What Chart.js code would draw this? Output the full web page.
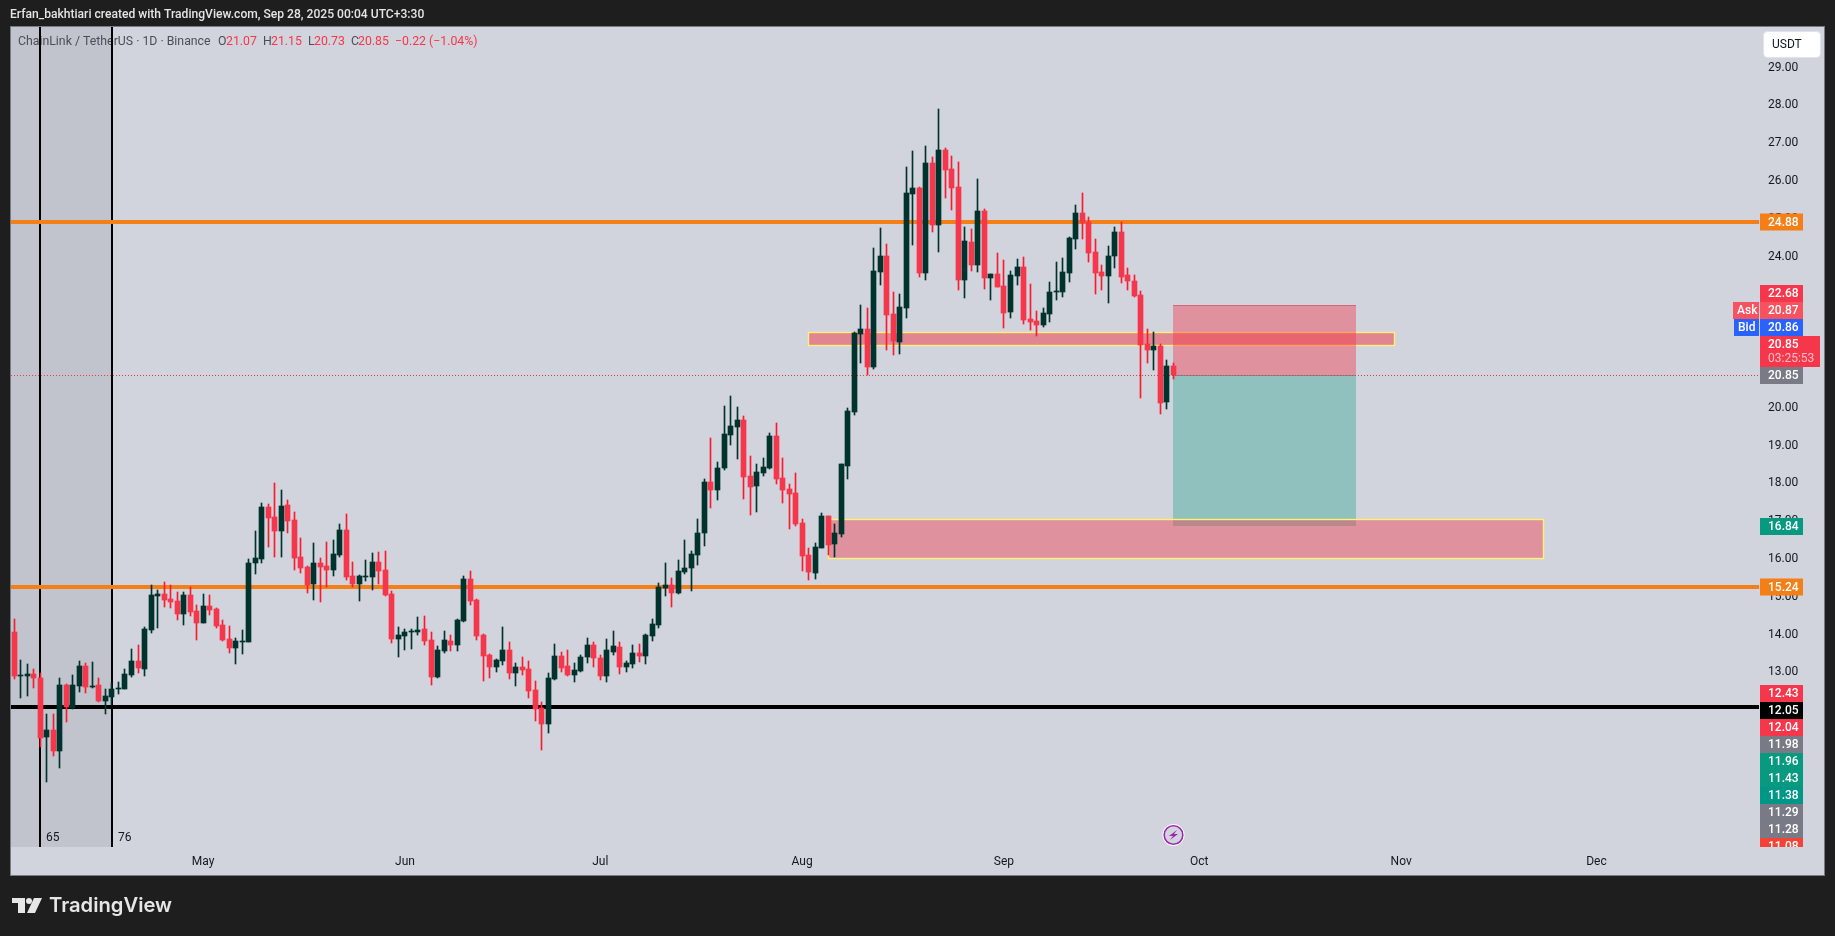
<!DOCTYPE html>
<html><head><meta charset="utf-8"><title>LINKUSDT</title>
<style>html,body{margin:0;padding:0;background:#1e1e1e;overflow:hidden}#wrap{position:absolute;left:0;top:0;width:1835px;height:936px}canvas{display:block}</style>
<script src="https://cdn.jsdelivr.net/npm/chart.js@4/dist/chart.umd.min.js"></script>
</head><body><div id="wrap"><canvas id="c" width="1835" height="936"></canvas></div>
<script>
// daily candles, index 0 = 2 Apr 2025, index 178 = 27 Sep 2025
const opens=[14.04,12.88,12.88,12.93,12.82,11.26,11.45,10.89,12.64,12.03,
12.61,13.14,12.58,12.64,12.21,12.32,12.53,12.53,12.90,13.27,
13.06,14.09,14.99,15.05,14.91,14.86,14.52,15.02,14.60,14.28,
14.73,14.65,14.23,13.86,13.62,13.78,13.78,15.87,15.97,17.35,
17.08,16.71,17.40,17.00,16.02,15.76,15.31,15.87,15.79,15.68,
16.08,16.74,15.52,15.31,15.49,15.49,15.89,15.68,15.05,13.85,
13.93,14.04,14.04,14.12,13.83,12.85,13.54,13.80,13.70,14.33,
15.44,14.89,13.96,13.43,13.11,13.27,13.56,12.95,13.11,13.06,
12.51,12.03,11.61,12.80,13.40,13.14,12.90,13.01,13.38,13.70,
13.35,12.88,13.51,13.64,13.11,13.19,13.48,13.40,13.93,14.23,
15.20,15.28,15.07,15.63,15.73,16.08,16.66,18.01,17.80,18.38,
19.25,19.46,19.65,18.17,17.90,18.25,18.38,19.23,18.11,17.82,
17.72,16.92,16.08,15.60,16.26,17.11,16.37,16.63,18.43,19.86,
21.92,22.06,21.05,23.56,23.99,22.45,21.71,22.61,25.63,25.79,
23.54,26.45,24.81,26.79,26.29,25.81,23.35,24.36,23.75,25.18,
23.40,23.51,23.19,22.51,23.46,23.70,22.32,22.27,22.16,22.45,
23.03,23.03,23.54,24.44,25.12,24.89,24.09,23.56,23.46,23.99,
24.62,23.48,23.33,22.96,21.66,21.50,21.61,20.12,21.07];
const closes=[12.88,12.90,12.93,12.82,11.24,11.45,10.89,12.64,12.06,12.64,
13.14,12.58,12.61,12.21,12.35,12.53,12.56,12.93,13.27,13.09,
14.12,15.02,15.05,14.89,14.83,14.52,15.02,14.57,14.28,14.73,
14.62,14.20,13.83,13.62,13.80,13.80,15.87,16.00,17.35,17.06,
16.71,17.37,16.98,16.00,15.73,15.28,15.87,15.76,15.68,16.10,
16.74,15.49,15.31,15.52,15.52,15.89,15.65,15.02,13.85,13.96,
14.04,14.07,14.09,13.80,12.85,13.56,13.83,13.70,14.36,15.44,
14.86,13.93,13.40,13.11,13.30,13.56,12.95,13.11,13.03,12.48,
12.00,11.61,12.82,13.40,13.09,12.90,13.03,13.38,13.70,13.35,
12.88,13.56,13.67,13.11,13.22,13.48,13.40,13.96,14.25,15.23,
15.28,15.07,15.65,15.73,16.10,16.66,18.01,17.80,18.38,19.28,
19.49,19.65,18.14,17.88,18.27,18.41,19.23,18.09,17.80,17.69,
16.90,16.05,15.63,16.29,17.11,16.34,16.66,18.48,19.89,21.95,
22.06,21.05,23.59,23.99,22.43,21.74,22.64,25.65,25.79,23.54,
26.45,24.81,26.79,26.26,25.79,23.35,24.38,23.75,25.18,23.40,
23.51,23.17,22.48,23.48,23.70,22.29,22.24,22.16,22.48,23.03,
23.06,23.56,24.46,25.12,24.86,24.07,23.54,23.46,23.99,24.62,
23.43,23.33,22.93,21.63,21.50,21.61,20.10,21.07,20.85];
const highs=[14.38,13.30,13.19,13.06,12.96,11.87,11.87,12.82,12.66,12.90,
13.27,13.22,13.25,12.82,12.53,12.69,12.72,13.06,13.59,13.70,
14.17,15.28,15.15,15.36,15.28,15.10,15.10,15.23,14.75,15.05,
15.02,14.68,14.36,14.20,13.88,14.09,15.97,16.71,17.45,17.43,
17.98,17.80,17.53,17.21,16.53,15.79,16.39,16.00,16.42,16.47,
16.90,17.16,15.89,15.55,15.94,16.13,16.16,16.18,15.12,14.17,
14.12,14.12,14.44,14.46,14.04,13.67,14.07,13.96,14.38,15.52,
15.65,14.91,13.99,13.46,13.33,14.17,13.78,13.22,13.38,13.27,
12.74,12.19,12.95,13.72,13.51,13.56,13.22,13.43,13.88,13.78,
13.43,13.85,14.07,13.78,13.27,13.70,13.72,13.99,14.38,15.34,
15.87,15.47,15.95,16.47,16.18,17.03,18.09,19.17,18.54,20.02,
20.28,19.99,19.75,18.70,18.48,18.64,19.30,19.57,18.64,17.96,
18.25,17.03,16.26,16.39,17.19,17.11,16.90,18.48,19.97,21.98,
22.69,22.61,24.20,24.73,24.30,23.03,22.98,26.34,26.76,25.81,
26.90,26.61,27.88,26.84,26.63,26.47,24.75,24.70,26.02,25.23,
23.51,24.07,23.88,23.59,23.91,23.96,23.25,22.53,22.61,23.30,
23.83,23.93,24.49,25.34,25.65,25.02,24.44,23.75,24.25,24.75,
24.89,23.67,23.48,23.06,22.06,21.98,21.66,21.24,21.15];
const lows=[12.80,12.29,12.35,12.56,11.00,10.08,10.76,10.44,11.66,12.00,
12.45,12.43,12.56,12.19,11.87,12.11,12.40,12.53,12.85,12.96,
12.88,14.01,14.15,14.70,14.68,14.36,14.23,14.46,13.83,14.28,
14.49,14.15,13.80,13.48,13.19,13.46,13.78,15.57,15.87,16.29,
16.02,16.02,16.66,15.68,15.60,15.07,14.89,14.83,15.23,15.52,
16.02,15.42,15.23,14.86,15.39,15.15,15.31,14.99,13.75,13.38,
13.56,13.59,13.96,13.70,12.64,12.82,13.48,13.54,13.54,14.30,
14.75,13.83,12.74,12.82,12.98,13.17,12.80,12.61,12.90,12.29,
11.69,10.92,11.37,12.77,12.98,12.88,12.72,12.98,13.22,13.11,
12.77,12.72,13.43,12.93,12.98,13.09,13.25,13.19,13.80,14.15,
14.99,14.70,15.05,15.57,15.12,15.81,16.32,17.32,17.53,18.33,
18.99,18.62,17.56,17.14,17.22,18.17,18.35,17.96,17.45,16.77,
16.84,15.65,15.42,15.44,16.26,16.08,16.02,16.55,18.09,19.78,
21.16,20.84,21.00,23.22,21.50,21.37,21.39,22.35,24.28,23.43,
23.35,24.62,24.09,25.52,25.20,23.09,22.88,23.59,23.56,23.11,
22.82,23.17,22.08,22.35,23.22,22.19,22.03,21.87,22.11,22.24,
22.82,22.90,23.30,24.17,24.44,23.83,22.98,23.09,22.74,23.67,
23.27,23.09,22.90,20.23,21.16,20.97,19.81,19.94,20.73];

const priceTicks=[13,14,15,16,17,18,19,20,24,25,26,27,28,29];
const monthDays=[29,60,90,121,152,182,213,243];
const monthLabels=['May','Jun','Jul','Aug','Sep','Oct','Nov','Dec'];

// drawings: day index and price
const orangeLevels=[24.88,15.24];
const blackLevel=12.05;
const lastPrice=20.85;
const zoneUpperDays=[121.9,212], zoneUpperPrices=[21.98,21.61];
const zoneLowerDays=[125,235], zoneLowerPrices=[17.03,15.98];
const positionDays=[178,206], positionPrices=[22.68,20.85,16.84];
const verticalDays=[4,15];
const barCounts=['65','76'];
const badgeStack=['12.43','12.05','12.04','11.98','11.96','11.43','11.38','11.29','11.28','11.08'];

const DARK='#00332e',RED='#f6364a',WICKRED='#fb1a30',UI='Roboto, sans-serif';
const isDown=i=>closes[i]<opens[i];
const days=opens.map((_,i)=>i);

function txt(ctx,s,x,y,font,color,align){ctx.font=font;ctx.fillStyle=color;ctx.textAlign=align||'left';ctx.textBaseline='middle';ctx.fillText(s,x,y);}
function badge(ctx,x0,x1,yc,h,color,s,tx,font){ctx.fillStyle=color;ctx.fillRect(x0,yc-h/2,x1-x0,h);txt(ctx,s,tx,yc+0.5,font||('500 12px '+UI),'#fff');}

const snapPlugin={id:'snap',
 afterLayout(chart){
  // price labels sit one pixel lower than the scale's own vertical centring
  const s=chart.scales.y,orig=Object.getPrototypeOf(s).drawLabels;
  s.drawLabels=function(area){const c=this.ctx;c.save();c.translate(0,1);orig.call(this,area);c.restore();};
 },
 afterDatasetsUpdate(chart){
  chart.getSortedVisibleDatasetMetas().forEach(m=>m.data.forEach(el=>{
    el.x=Math.floor(el.x)+0.5;el.y=Math.round(el.y);el.base=Math.round(el.base);
  }));
 }};

const panelPlugin={id:'panel',
 beforeDraw(chart){
  const c=chart.ctx;
  c.save();
  c.fillStyle='#1e1e1e';c.fillRect(0,0,1835,936);
  c.fillStyle='#d1d4dc';c.fillRect(11,27,1813,848);
  c.strokeStyle='#787b86';c.lineWidth=1;c.strokeRect(10.5,26.5,1814,849);
  txt(c,'Erfan_bakhtiari created with TradingView.com, Sep 28, 2025 00:04 UTC+3:30',10,15,'500 12.1px '+UI,'#e4e4e4');
  // logo
  c.fillStyle='#e6e6e6';
  c.fillRect(12,898,13,5);c.fillRect(18,898,7,15);
  c.beginPath();c.arc(29,901,3,0,Math.PI*2);c.fill();
  c.beginPath();c.moveTo(34,898);c.lineTo(42,898);c.lineTo(35,913);c.lineTo(27,913);c.closePath();c.fill();
  txt(c,'TradingView',49,906,'600 20.2px Inter, '+UI,'#e6e6e6');
  c.restore();
 },
 beforeDatasetsDraw(chart){
  const c=chart.ctx,X=chart.scales.x,Y=chart.scales.y,a=chart.chartArea;
  const px=d=>X.getPixelForValue(d),py=p=>Y.getPixelForValue(p);
  c.save();
  // shaded range
  const v0=px(verticalDays[0]),v1=px(verticalDays[1]);
  const lx=Math.round(v0),rx=Math.round(v1);
  c.fillStyle='#c1c4cc';c.fillRect(a.left,a.top,rx-a.left,a.bottom-a.top);
  // legend text
  const lf='12.3px '+UI,g='#4a4e5a',r='#f6364a';
  txt(c,'ChainLink / TetherUS · 1D · Binance',18,41.5,lf,g);
  [['O',218,g],['21.07',226,r],['H',263,g],['21.15',271,r],['L',308,g],['20.73',314,r],['C',351,g],['20.85',358,r],['−0.22',395,r],['(−1.04%)',429,r]]
    .forEach(t=>txt(c,t[0],t[1],41.5,lf,t[2]));
  // vertical lines
  c.fillStyle='#000';
  [lx,rx].forEach(x=>c.fillRect(x-1,a.top,2,a.bottom-a.top));
  txt(c,barCounts[0],lx+6,838,'12px '+UI,'#131722');
  txt(c,barCounts[1],rx+6,838,'12px '+UI,'#131722');
  // position box and zones
  const bx0=Math.round(px(positionDays[0])),bx1=Math.round(px(positionDays[1]));
  const pt=Math.round(py(positionPrices[0])),pm=Math.round(py(positionPrices[1])),pb=Math.round(py(positionPrices[2]));
  c.fillStyle='rgba(8,153,129,0.32)';c.fillRect(bx0,pm,bx1-bx0,pb-pm);
  const zone=(dd,pp,al)=>{
    const x0=Math.round(px(dd[0])),x1=Math.round(px(dd[1])),y0=Math.round(py(pp[0])),y1=Math.round(py(pp[1]));
    c.fillStyle='rgba(242,54,69,'+al+')';c.fillRect(x0,y0,x1-x0,y1-y0);
    c.strokeStyle='#fff176';c.lineWidth=1.4;c.strokeRect(x0+.5,y0+.5,x1-x0-1,y1-y0-1);
  };
  zone(zoneLowerDays,zoneLowerPrices,0.42);
  zone(zoneUpperDays,zoneUpperPrices,0.5);
  c.fillStyle='rgba(242,54,69,0.42)';c.fillRect(bx0,pt,bx1-bx0,pm-pt);
  c.fillStyle='rgba(200,60,80,0.5)';c.fillRect(bx0,pt,bx1-bx0,1);
  c.fillStyle='rgba(90,110,110,0.6)';c.fillRect(bx0,pm,bx1-bx0,1);
  // horizontal lines
  c.fillStyle='#f57f17';
  orangeLevels.forEach(l=>c.fillRect(a.left,Math.round(py(l))-2,a.right-a.left,4));
  c.fillStyle='#000';c.fillRect(a.left,Math.round(py(blackLevel))-2,a.right-a.left,4);
  // last price
  c.strokeStyle='#f23645';c.lineWidth=1;c.setLineDash([1,2]);
  const ly=Math.round(py(lastPrice))+.5;
  c.beginPath();c.moveTo(a.left,ly);c.lineTo(a.right,ly);c.stroke();c.setLineDash([]);
  c.restore();
 },
 afterDraw(chart){
  const c=chart.ctx,Y=chart.scales.y;
  const py=p=>Y.getPixelForValue(p);
  const X0=1760,X1=1803,TX=1768,H=17;
  c.save();
  // USDT button
  c.fillStyle='#fff';c.strokeStyle='#e0e3eb';c.lineWidth=1;
  c.beginPath();c.roundRect(1763.5,31.5,57,26,4);c.fill();c.stroke();
  txt(c,'USDT',1772,45,'12px '+UI,'#131722');
  const O='#f57f17',G='#089981',GR='#787b86',R='#f6364a';
  badge(c,X0,X1,Math.round(py(orangeLevels[0])),H,O,orangeLevels[0].toFixed(2),TX);
  badge(c,X0,X1,293.5,H,R,positionPrices[0].toFixed(2),TX);
  badge(c,X0,X1,310.5,H,'#f7525f','20.87',TX);
  badge(c,1733,1759,310.5,H,'#f7525f','Ask',1737);
  badge(c,X0,X1,327.5,H,'#2962ff','20.86',TX);
  badge(c,1734,1759,327.5,H,'#2962ff','Bid',1738);
  c.fillStyle=R;c.fillRect(X0,336,60,31);
  txt(c,lastPrice.toFixed(2),TX,344.5,'500 12px '+UI,'#fff');
  txt(c,'03:25:53',TX,358.5,'12px '+UI,'#fbc0c7');
  badge(c,X0,X1,375.5,H,GR,lastPrice.toFixed(2),TX);
  badge(c,X0,X1,526.5,H,G,positionPrices[2].toFixed(2),TX);
  badge(c,X0,X1,587,H,O,orangeLevels[1].toFixed(2),TX);
  // stacked labels, clipped at the pane bottom
  const colors=[R,'#000',R,GR,G,G,'#009688',GR,GR,'#f44336'];
  c.save();c.beginPath();c.rect(1750,680,80,167);c.clip();
  badgeStack.forEach((s,i)=>badge(c,X0,X1,693.5+17*i,H,colors[i],s,TX));
  c.restore();
  // lightning marker
  const ix=1173.5,iy=835;
  c.fillStyle='#fff';c.beginPath();c.arc(ix,iy,11,0,Math.PI*2);c.fill();
  c.fillStyle='#d1d4dc';c.beginPath();c.arc(ix,iy,8.5,0,Math.PI*2);c.fill();
  c.strokeStyle='#9c27b0';c.lineWidth=1.6;c.beginPath();c.arc(ix,iy,9.3,0,Math.PI*2);c.stroke();
  c.fillStyle='#9c27b0';c.beginPath();c.moveTo(ix+3.5,iy-5);c.lineTo(ix-4.5,iy+1);c.lineTo(ix-.5,iy+1);c.lineTo(ix-3.5,iy+5);c.lineTo(ix+4.5,iy-1);c.lineTo(ix+.5,iy-1);c.closePath();c.fill();
  c.restore();
 }
};

new Chart(document.getElementById('c'),{
 type:'bar',
 data:{datasets:[
  {label:'Wick',order:2,grouped:false,barThickness:1,minBarLength:1,
   data:days.map(i=>({x:i,y:[lows[i],highs[i]]})),
   backgroundColor:days.map(i=>isDown(i)?WICKRED:DARK),borderWidth:0},
  {label:'Body',order:1,grouped:false,barThickness:5,minBarLength:1,
   data:days.map(i=>({x:i,y:[opens[i],closes[i]]})),
   backgroundColor:days.map(i=>isDown(i)?RED:DARK),borderWidth:0}
 ]},
 options:{
  responsive:false,animation:false,devicePixelRatio:1,
  layout:{padding:{left:11,top:27,right:11,bottom:61}},
  plugins:{legend:{display:false},tooltip:{enabled:false}},
  scales:{
   x:{type:'linear',offset:false,min:-0.507,max:267.96,
      grid:{display:false,drawTicks:false},border:{display:false},
      afterFit(s){s.height=28;},
      afterBuildTicks(s){s.ticks=monthDays.map(v=>({value:v}));},
      ticks:{autoSkip:false,maxRotation:0,padding:8,color:'#131722',font:{family:'Roboto',size:12},
             callback:v=>monthLabels[monthDays.indexOf(v)]}},
   y:{type:'linear',position:'right',min:8.352,max:30.045,
      grid:{display:false,drawTicks:false},border:{display:false},
      afterFit(s){s.width=65;},
      afterBuildTicks(s){s.ticks=priceTicks.map(v=>({value:v}));},
      ticks:{padding:9,color:'#131722',crossAlign:'near',font:{family:'Roboto',size:12},
             callback:v=>v.toFixed(2)}}
  }
 },
 plugins:[snapPlugin,panelPlugin]
});
</script></body></html>
